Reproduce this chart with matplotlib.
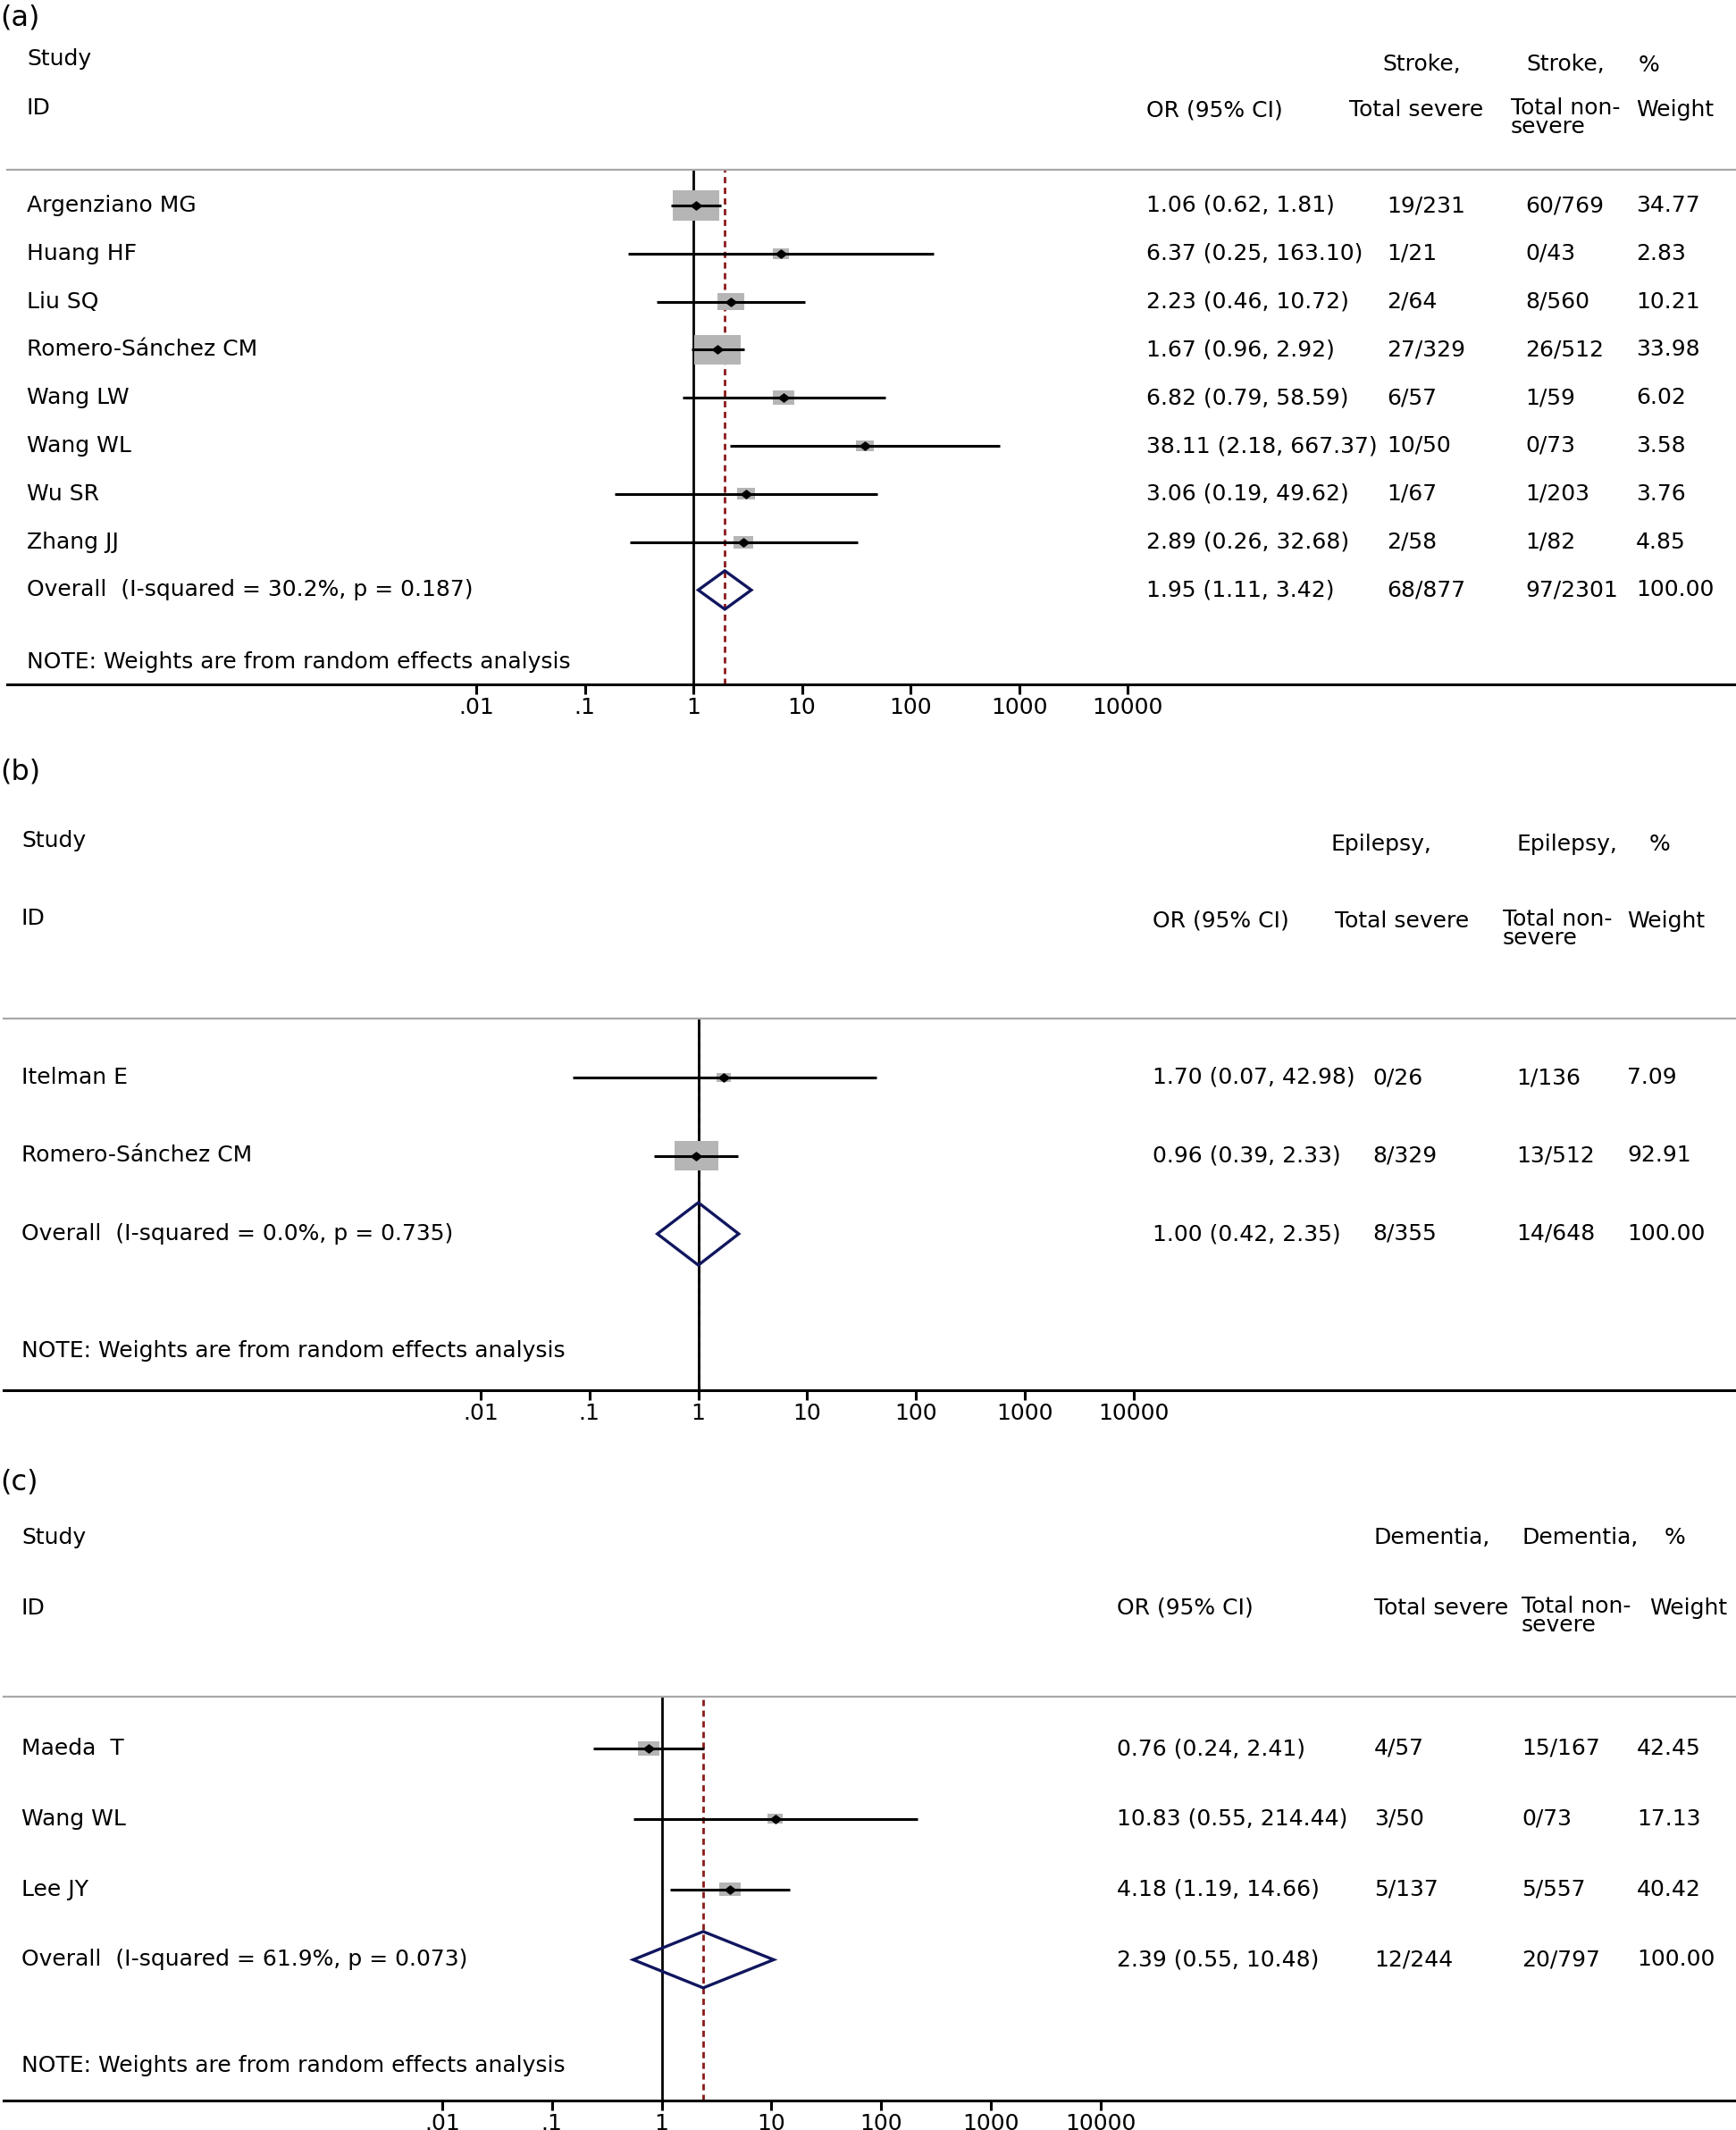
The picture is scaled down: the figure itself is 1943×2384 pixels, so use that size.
import numpy as np
import matplotlib
matplotlib.use("Agg")
import matplotlib.pyplot as plt
from matplotlib.patches import Rectangle, Polygon
from matplotlib.transforms import blended_transform_factory
from matplotlib.ticker import NullLocator

plt.rcParams['font.family'] = ['DejaVu Sans']

W, H = 1943, 2384
DPI = 100
FS = 18

# ---------------- data ----------------
tick_values = [0.01, 0.1, 1, 10, 100, 1000, 10000]
tick_labels = [".01", ".1", "1", "10", "100", "1000", "10000"]

# (a) Stroke
a_studies = ["Argenziano MG", "Huang HF", "Liu SQ", "Romero-Sánchez CM",
             "Wang LW", "Wang WL", "Wu SR", "Zhang JJ"]
a_or = [1.06, 6.37, 2.23, 1.67, 6.82, 38.11, 3.06, 2.89]
a_lo = [0.62, 0.25, 0.46, 0.96, 0.79, 2.18, 0.19, 0.26]
a_hi = [1.81, 163.10, 10.72, 2.92, 58.59, 667.37, 49.62, 32.68]
a_severe = ["19/231", "1/21", "2/64", "27/329", "6/57", "10/50", "1/67", "2/58"]
a_nonsevere = ["60/769", "0/43", "8/560", "26/512", "1/59", "0/73", "1/203", "1/82"]
a_weight = [34.77, 2.83, 10.21, 33.98, 6.02, 3.58, 3.76, 4.85]
a_overall = [1.95, 1.11, 3.42]
a_overall_counts = ["68/877", "97/2301"]
a_overall_label = "Overall  (I-squared = 30.2%, p = 0.187)"
a_outcome = "Stroke,"

# (b) Epilepsy
b_studies = ["Itelman E", "Romero-Sánchez CM"]
b_or = [1.70, 0.96]
b_lo = [0.07, 0.39]
b_hi = [42.98, 2.33]
b_severe = ["0/26", "8/329"]
b_nonsevere = ["1/136", "13/512"]
b_weight = [7.09, 92.91]
b_overall = [1.00, 0.42, 2.35]
b_overall_counts = ["8/355", "14/648"]
b_overall_label = "Overall  (I-squared = 0.0%, p = 0.735)"
b_outcome = "Epilepsy,"

# (c) Dementia
c_studies = ["Maeda  T", "Wang WL", "Lee JY"]
c_or = [0.76, 10.83, 4.18]
c_lo = [0.24, 0.55, 1.19]
c_hi = [2.41, 214.44, 14.66]
c_severe = ["4/57", "3/50", "5/137"]
c_nonsevere = ["15/167", "0/73", "5/557"]
c_weight = [42.45, 17.13, 40.42]
c_overall = [2.39, 0.55, 10.48]
c_overall_counts = ["12/244", "20/797"]
c_overall_label = "Overall  (I-squared = 61.9%, p = 0.073)"
c_outcome = "Dementia,"

note_text = "NOTE: Weights are from random effects analysis"

# ---------------- layout (pixels) ----------------
panels = [
    dict(tag="(a)", tag_y=20, studies=a_studies, orv=a_or, lo=a_lo, hi=a_hi,
         sev=a_severe, non=a_nonsevere, wt=a_weight, ov=a_overall,
         ovc=a_overall_counts, ovl=a_overall_label, outcome=a_outcome,
         left=8, right=1943, top=190, bottom=766, x1=776, dec=121.5,
         row0=230, rowh=53.8, namex=30, study_y=66, id_y=120.5,
         hdr_y=72.5, hdr2_y=123,
         cols=[1283, 1552, 1707, 1831], hcols=[1283, 1510, 1691, 1831],
         outx=[1547, 1708], pctx=1834, boxk=(8.07, 4.1), dashed=True),
    dict(tag="(b)", tag_y=864, studies=b_studies, orv=b_or, lo=b_lo, hi=b_hi,
         sev=b_severe, non=b_nonsevere, wt=b_weight, ov=b_overall,
         ovc=b_overall_counts, ovl=b_overall_label, outcome=b_outcome,
         left=4, right=1943, top=1140, bottom=1556, x1=781.6, dec=121.8,
         row0=1206, rowh=87.5, namex=24, study_y=941, id_y=1028,
         hdr_y=944.5, hdr2_y=1031,
         cols=[1290, 1536, 1697, 1821], hcols=[1290, 1494, 1682, 1821],
         outx=[1489, 1697], pctx=1846, boxk=(4.79, 3.55), dashed=True),
    dict(tag="(c)", tag_y=1659, studies=c_studies, orv=c_or, lo=c_lo, hi=c_hi,
         sev=c_severe, non=c_nonsevere, wt=c_weight, ov=c_overall,
         ovc=c_overall_counts, ovl=c_overall_label, outcome=c_outcome,
         left=4, right=1943, top=1898.5, bottom=2351, x1=740.6, dec=122.8,
         row0=1957, rowh=78.8, namex=24, study_y=1721, id_y=1800,
         hdr_y=1721, hdr2_y=1800,
         cols=[1250, 1538, 1703, 1832], hcols=[1250, 1538, 1703, 1846],
         outx=[1538, 1703], pctx=1863, boxk=(2.95, 4.8), dashed=True),
]

BOX_COLOR = "#b5b5b5"
DIAMOND_COLOR = "#10165e"
RED = "#8b1a1a"
GRAY_LINE = "#a8a8a8"

fig = plt.figure(figsize=(W / DPI, H / DPI), dpi=DPI)
fig.patch.set_facecolor("white")

def fx(px):
    return px / W

def fy(py):
    return 1 - py / H

pt_marker = [(-1, 0), (0, 0.78), (1, 0), (0, -0.78), (-1, 0)]

for p in panels:
    ax = fig.add_axes([fx(p["left"]), fy(p["bottom"]),
                       (p["right"] - p["left"]) / W, (p["bottom"] - p["top"]) / H])
    ax.set_xscale("log")
    ax.set_xlim(10 ** ((p["left"] - p["x1"]) / p["dec"]),
                10 ** ((p["right"] - p["x1"]) / p["dec"]))
    ax.set_ylim((p["bottom"] - p["row0"]) / p["rowh"], (p["top"] - p["row0"]) / p["rowh"])
    ax.set_facecolor("none")
    for s in ["left", "right"]:
        ax.spines[s].set_visible(False)
    ax.spines["top"].set_color(GRAY_LINE)
    ax.spines["top"].set_linewidth(1.6)
    ax.spines["bottom"].set_color("black")
    ax.spines["bottom"].set_linewidth(2.2)
    ax.set_yticks([])
    ax.set_xticks(tick_values)
    ax.set_xticklabels(tick_labels, fontsize=FS)
    ax.xaxis.set_minor_locator(NullLocator())
    ax.tick_params(axis="x", direction="out", length=8.0, width=2.2, pad=2.0, colors="black")

    n = len(p["studies"])
    rows = np.arange(n)
    ov_row = n
    dpx = p["dec"]
    rpx = p["rowh"]

    # reference lines
    ax.axvline(1, color="black", lw=2.0, zorder=1.5)
    if p["dashed"]:
        ax.axvline(p["ov"][0], color=RED, lw=2.0, ls=(0, (2.5, 1.8)), zorder=1.2)

    # boxes (area ~ weight)
    k, c = p["boxk"]
    for r, o, w in zip(rows, p["orv"], p["wt"]):
        wpx = k * np.sqrt(w) + c
        hpx = 0.645 * wpx
        hw = wpx / 2 / dpx
        hh = hpx / 2 / rpx
        x0 = o * 10 ** (-hw)
        x1 = o * 10 ** (hw)
        ax.add_patch(Rectangle((x0, r - hh), x1 - x0, 2 * hh, facecolor=BOX_COLOR,
                               edgecolor="none", zorder=2))

    # CI lines and point estimates
    ax.hlines(rows, p["lo"], p["hi"], color="black", lw=2.2, zorder=3)
    ax.plot(p["orv"], rows, ls="none", marker=pt_marker, ms=8.5, color="black", zorder=4)

    # overall diamond
    o, l, h = p["ov"]
    dh = 0.4
    ax.add_patch(Polygon([(l, ov_row), (o, ov_row - dh), (h, ov_row), (o, ov_row + dh)],
                         closed=True, facecolor="none", edgecolor=DIAMOND_COLOR,
                         lw=2.4, zorder=3, joinstyle="miter"))

    # texts in rows
    tr = blended_transform_factory(fig.transFigure, ax.transData)
    for r, name, oo, lo_, hi_, sv, ns, w in zip(rows, p["studies"], p["orv"], p["lo"], p["hi"],
                                               p["sev"], p["non"], p["wt"]):
        ax.text(fx(p["namex"]), r, name, transform=tr, fontsize=FS, va="center", ha="left")
        ax.text(fx(p["cols"][0]), r, f"{oo:.2f} ({lo_:.2f}, {hi_:.2f})", transform=tr,
                fontsize=FS, va="center", ha="left")
        ax.text(fx(p["cols"][1]), r, sv, transform=tr, fontsize=FS, va="center", ha="left")
        ax.text(fx(p["cols"][2]), r, ns, transform=tr, fontsize=FS, va="center", ha="left")
        ax.text(fx(p["cols"][3]), r, f"{w:.2f}", transform=tr, fontsize=FS, va="center", ha="left")
    ax.text(fx(p["namex"]), ov_row, p["ovl"], transform=tr, fontsize=FS, va="center", ha="left")
    ax.text(fx(p["cols"][0]), ov_row, f"{o:.2f} ({l:.2f}, {h:.2f})", transform=tr,
            fontsize=FS, va="center", ha="left")
    ax.text(fx(p["cols"][1]), ov_row, p["ovc"][0], transform=tr, fontsize=FS, va="center", ha="left")
    ax.text(fx(p["cols"][2]), ov_row, p["ovc"][1], transform=tr, fontsize=FS, va="center", ha="left")
    ax.text(fx(p["cols"][3]), ov_row, f"{sum(p['wt']):.2f}", transform=tr, fontsize=FS,
            va="center", ha="left")
    ax.text(fx(p["namex"]), ov_row + 1.5, note_text, transform=tr, fontsize=FS,
            va="center", ha="left")

    # header texts
    fig.text(0, fy(p["tag_y"]), p["tag"], fontsize=23, va="center", ha="left")
    fig.text(fx(p["namex"]), fy(p["study_y"]), "Study", fontsize=FS, va="center", ha="left")
    fig.text(fx(p["namex"]), fy(p["id_y"]), "ID", fontsize=FS, va="center", ha="left")
    fig.text(fx(p["outx"][0]), fy(p["hdr_y"]), p["outcome"], fontsize=FS, va="center", ha="left")
    fig.text(fx(p["outx"][1]), fy(p["hdr_y"]), p["outcome"], fontsize=FS, va="center", ha="left")
    fig.text(fx(p["pctx"]), fy(p["hdr_y"]), "%", fontsize=FS, va="center", ha="left")
    fig.text(fx(p["hcols"][0]), fy(p["hdr2_y"]), "OR (95% CI)", fontsize=FS, va="center", ha="left")
    fig.text(fx(p["hcols"][1]), fy(p["hdr2_y"]), "Total severe", fontsize=FS, va="center", ha="left")
    fig.text(fx(p["hcols"][2]), fy(p["hdr2_y"] - 14), "Total non-\nsevere", fontsize=FS,
             va="top", ha="left", linespacing=0.85)
    fig.text(fx(p["hcols"][3]), fy(p["hdr2_y"]), "Weight", fontsize=FS, va="center", ha="left")

fig.savefig("out.png", dpi=DPI, facecolor="white")
